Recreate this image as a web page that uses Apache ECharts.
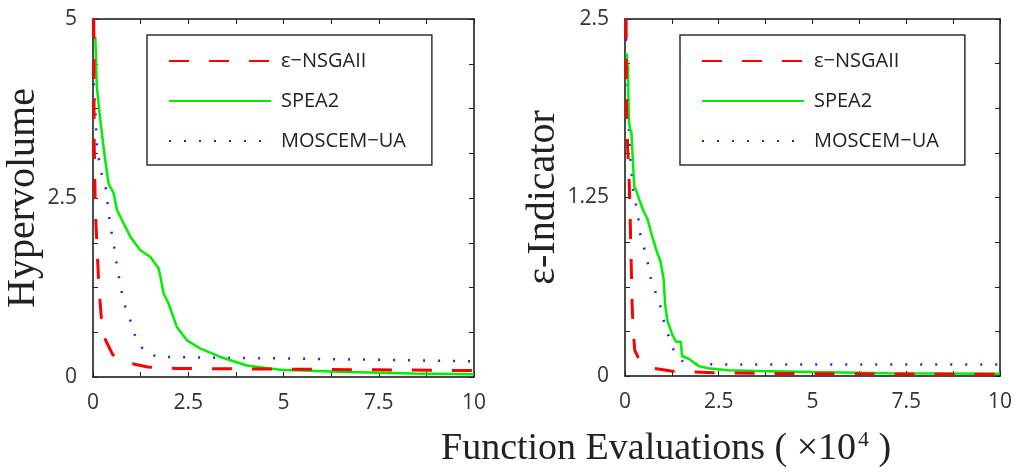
<!DOCTYPE html>
<html>
<head>
<meta charset="utf-8">
<script src="https://cdn.jsdelivr.net/npm/echarts@6/dist/echarts.min.js"></script>
<style>
  html, body { margin: 0; padding: 0; background: #fff; }
  #main { width: 1015px; height: 472px; }
</style>
</head>
<body>
<div id="main"></div>
<script>
// series names
var names = ['ε−NSGAII', 'SPEA2', 'MOSCEM−UA'];

// left panel: Hypervolume (x in 10^4 evaluations)
var hvNsgaX = [0.02, 0.03, 0.06, 0.15, 0.24, 0.3, 0.39, 0.52, 0.7, 0.89, 1.44, 2.2, 3.2, 5, 7.5, 10];
var hvNsgaY = [5, 3.3, 2.35, 1.3, 0.68, 0.55, 0.45, 0.31, 0.24, 0.2, 0.14, 0.12, 0.115, 0.11, 0.1, 0.09];
var hvSpeaX = [0.06, 0.1, 0.19, 0.32, 0.41, 0.54, 0.63, 0.8, 0.98, 1.24, 1.5, 1.72, 1.77, 1.85, 1.98, 2.2, 2.47, 2.81, 3.34, 4.04, 4.91, 6.66, 8.41, 10];
var hvSpeaY = [4.76, 4.06, 3.59, 3.03, 2.7, 2.57, 2.33, 2.15, 1.96, 1.77, 1.68, 1.52, 1.4, 1.17, 1.03, 0.7, 0.51, 0.4, 0.28, 0.16, 0.1, 0.07, 0.05, 0.04];
var hvMosX = [0.02, 0.06, 0.1, 0.19, 0.32, 0.45, 0.54, 0.63, 0.76, 0.85, 0.98, 1.08, 1.21, 1.42, 1.73, 3, 5, 7.5, 10];
var hvMosY = [4.1, 3.73, 3.26, 2.89, 2.7, 2.12, 1.87, 1.54, 1.17, 0.98, 0.79, 0.61, 0.45, 0.33, 0.28, 0.27, 0.26, 0.24, 0.22];

// right panel: epsilon indicator
var epNsgaX = [0.03, 0.04, 0.07, 0.1, 0.13, 0.16, 0.19, 0.22, 0.26, 0.35, 0.47, 0.73, 1.23, 1.76, 2.5, 4, 7, 10];
var epNsgaY = [2.5, 1.9, 1.6, 1.45, 1.2, 0.85, 0.5, 0.32, 0.18, 0.13, 0.09, 0.056, 0.035, 0.028, 0.022, 0.018, 0.014, 0.012];
var epSpeaX = [0.04, 0.08, 0.1, 0.13, 0.17, 0.2, 0.25, 0.3, 0.4, 0.5, 0.6, 0.7, 0.85, 0.95, 1.03, 1.07, 1.13, 1.26, 1.36, 1.49, 1.52, 1.7, 1.96, 2.2, 2.75, 3.5, 5, 7, 10];
var epSpeaY = [2.26, 2.15, 1.8, 1.73, 1.71, 1.55, 1.32, 1.3, 1.22, 1.15, 1.1, 1.0, 0.87, 0.8, 0.68, 0.5, 0.39, 0.29, 0.24, 0.24, 0.14, 0.12, 0.07, 0.055, 0.04, 0.035, 0.028, 0.02, 0.015];
var epMosX = [0.02, 0.06, 0.09, 0.13, 0.22, 0.35, 0.4, 0.57, 0.7, 0.92, 1.05, 1.15, 1.26, 1.41, 1.62, 3, 5, 7.5, 10];
var epMosY = [2.36, 2.1, 1.86, 1.56, 1.3, 1.12, 1.0, 0.84, 0.67, 0.51, 0.37, 0.29, 0.2, 0.13, 0.085, 0.08, 0.08, 0.08, 0.08];

// axis ticks
var xTicks = { min: 0, max: 10, interval: 2.5 };
var hvTicks = { min: 0, max: 5, interval: 2.5 };
var epTicks = { min: 0, max: 2.5, interval: 1.25 };

function pairs(xs, ys) {
  var out = [];
  for (var i = 0; i < xs.length; i++) out.push([xs[i], ys[i]]);
  return out;
}

var chart = echarts.init(document.getElementById('main'), null, { renderer: 'canvas' });

var labelFont = { fontFamily: 'Open Sans', fontSize: 21, color: '#333' };
var serifName = { fontFamily: 'Liberation Serif', fontSize: 40, color: '#222', fontWeight: 'normal' };

function axisBase(t, gridIndex, pos, showLabel) {
  return {
    type: 'value',
    gridIndex: gridIndex,
    position: pos,
    min: t.min, max: t.max, interval: t.interval,
    axisLine: { show: true, onZero: false, lineStyle: { color: '#111', width: 1.5 } },
    axisTick: { show: true, inside: true, length: 5, lineStyle: { color: '#222', width: 1 } },
    minorTick: { show: true, splitNumber: 2, length: 5, lineStyle: { color: '#222', width: 1 } },
    axisLabel: { show: showLabel, margin: 16, fontFamily: labelFont.fontFamily, fontSize: labelFont.fontSize, color: labelFont.color, showMaxLabel: true, showMinLabel: true },
    splitLine: { show: false }
  };
}

var xAxes = [
  axisBase(xTicks, 0, 'bottom', true),
  axisBase(xTicks, 0, 'top', false),
  axisBase(xTicks, 1, 'bottom', true),
  axisBase(xTicks, 1, 'top', false)
];
var yAxes = [
  axisBase(hvTicks, 0, 'left', true),
  axisBase(hvTicks, 0, 'right', false),
  axisBase(epTicks, 1, 'left', true),
  axisBase(epTicks, 1, 'right', false)
];
// y axes have 8 tick intervals
yAxes.forEach(function (a) { a.minorTick.splitNumber = 4; });
yAxes[0].name = 'Hypervolume';
yAxes[0].nameLocation = 'middle';
yAxes[0].nameRotate = 90;
yAxes[0].nameGap = 50;
yAxes[0].nameTextStyle = serifName;
yAxes[2].name = 'ε-Indicator';
yAxes[2].nameLocation = 'middle';
yAxes[2].nameRotate = 90;
yAxes[2].nameGap = 62;
yAxes[2].nameTextStyle = serifName;

var styles = [
  { color: '#ff0000', width: 3, type: [20, 20] },
  { color: '#00ee00', width: 2.5, type: 'solid' },
  { color: '#2424e6', width: 2.5, type: [2, 13] }
];

function mkSeries(name, idx, data, axisIdx) {
  return {
    name: name,
    type: 'line',
    xAxisIndex: axisIdx,
    yAxisIndex: axisIdx,
    data: data,
    symbol: 'none',
    smooth: false,
    lineStyle: styles[idx],
    itemStyle: { color: styles[idx].color },
    z: 3 - idx
  };
}

var series = [
  mkSeries(names[0], 0, pairs(hvNsgaX, hvNsgaY), 0),
  mkSeries(names[1], 1, pairs(hvSpeaX, hvSpeaY), 0),
  mkSeries(names[2], 2, pairs(hvMosX, hvMosY), 0),
  mkSeries(names[0], 0, pairs(epNsgaX, epNsgaY), 2),
  mkSeries(names[1], 1, pairs(epSpeaX, epSpeaY), 2),
  mkSeries(names[2], 2, pairs(epMosX, epMosY), 2)
];

function mkLegend(left) {
  return {
    data: names,
    orient: 'vertical',
    left: left,
    top: 35,
    padding: [16, 26, 14, 21],
    itemWidth: 102,
    itemHeight: 14,
    itemGap: 20,
    itemStyle: { opacity: 0 },
    borderColor: '#333',
    borderWidth: 1.5,
    backgroundColor: '#fff',
    textStyle: { fontFamily: 'Open Sans', fontSize: 20, color: '#222', padding: [0, 0, 0, 5] },
    selectedMode: false
  };
}

var option = {
  animation: false,
  backgroundColor: '#fff',
  grid: [
    { left: 93, top: 19, width: 381, height: 358, show: false },
    { left: 625, top: 19, width: 382, height: 357, show: false }
  ],
  legend: [mkLegend(147), mkLegend(680)],
  title: {
    left: 436,
    top: 424,
    text: '{a|Function Evaluations ( ×10}{s|4}{a| )}',
    textStyle: {
      fontWeight: 'normal',
      rich: {
        a: { fontFamily: 'Liberation Serif', fontSize: 38, color: '#222', fontWeight: 'normal' },
        s: { fontFamily: 'Liberation Serif', fontSize: 22, color: '#222', fontWeight: 'normal', verticalAlign: 'top', padding: [0, 0, 18, 2] }
      }
    }
  },
  xAxis: xAxes,
  yAxis: yAxes,
  series: series
};

chart.setOption(option);
</script>
</body>
</html>
